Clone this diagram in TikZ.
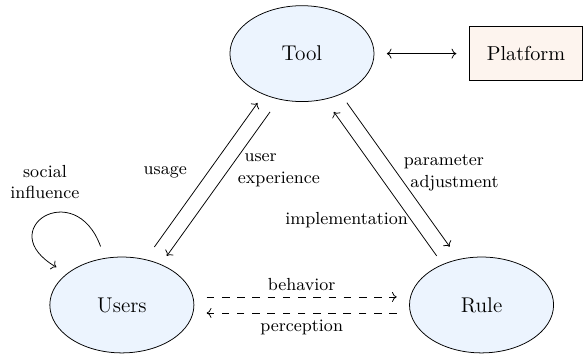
\documentclass[tikz,border=0pt]{standalone}
\definecolor{actorblue}{RGB}{236,244,254}
\definecolor{softpeach}{RGB}{253,244,238}
\usetikzlibrary{arrows.meta,positioning,shapes.geometric}

\begin{document}
\begin{tikzpicture}[
  actor/.style={draw,ellipse,fill=actorblue,minimum width=2.66cm,minimum height=1.77cm,font=\fontsize{11.2pt}{13pt}\selectfont},
  tag/.style={font=\fontsize{9.2pt}{11.5pt}\selectfont},
  flow/.style={->,shorten >=6.5pt,shorten <=6.5pt},
  dashflow/.style={flow,dash pattern=on 4pt off 4pt}
]
\useasboundingbox (0,0) rectangle (10.8,6.57);
\node[actor] (tool) at (5.575,5.58) {Tool};
\node[actor] (users) at (2.25,0.94) {Users};
\node[actor] (rule) at (8.89,0.94) {Rule};
\node[draw,fill=softpeach,minimum width=2.1cm,minimum height=1cm,font=\fontsize{10.6pt}{13pt}\selectfont] (platform) at (9.71,5.58) {Platform};
\draw[flow,<->] (tool) -- (platform);
% users <-> tool
\draw[flow,transform canvas={shift={(-0.11,0.08)}}] (users) -- (tool);
\draw[flow,transform canvas={shift={(0.12,-0.086)}}] (tool) -- (users);
\node[tag] at (3.05,3.38) {usage};
\node[tag,align=left] at (5.15,3.43) {\hspace*{3.5pt}user\\experience};
% tool <-> rule
\draw[flow,transform canvas={shift={(-0.12,-0.085)}}] (rule) -- (tool);
\draw[flow,transform canvas={shift={(0.12,0.085)}}] (tool) -- (rule);
\node[tag,align=left] at (8.33,3.37) {parameter\\\hspace*{3.5pt}adjustment};
\node[tag] at (6.40,2.51) {implementation};
% users <-> rule
\draw[dashflow] ([yshift=4.2pt]users.east) -- ([yshift=4.2pt]rule.west) node[tag,midway,above] {behavior};
\draw[dashflow] ([yshift=-4.2pt]rule.west) -- ([yshift=-4.2pt]users.east) node[tag,midway,below] {perception};
% self loop
\draw[flow] (users) to[out=110,in=150,looseness=5.5] (users);
\node[tag,align=center] at (0.83,3.21) {social\\influence};
\end{tikzpicture}
\end{document}
